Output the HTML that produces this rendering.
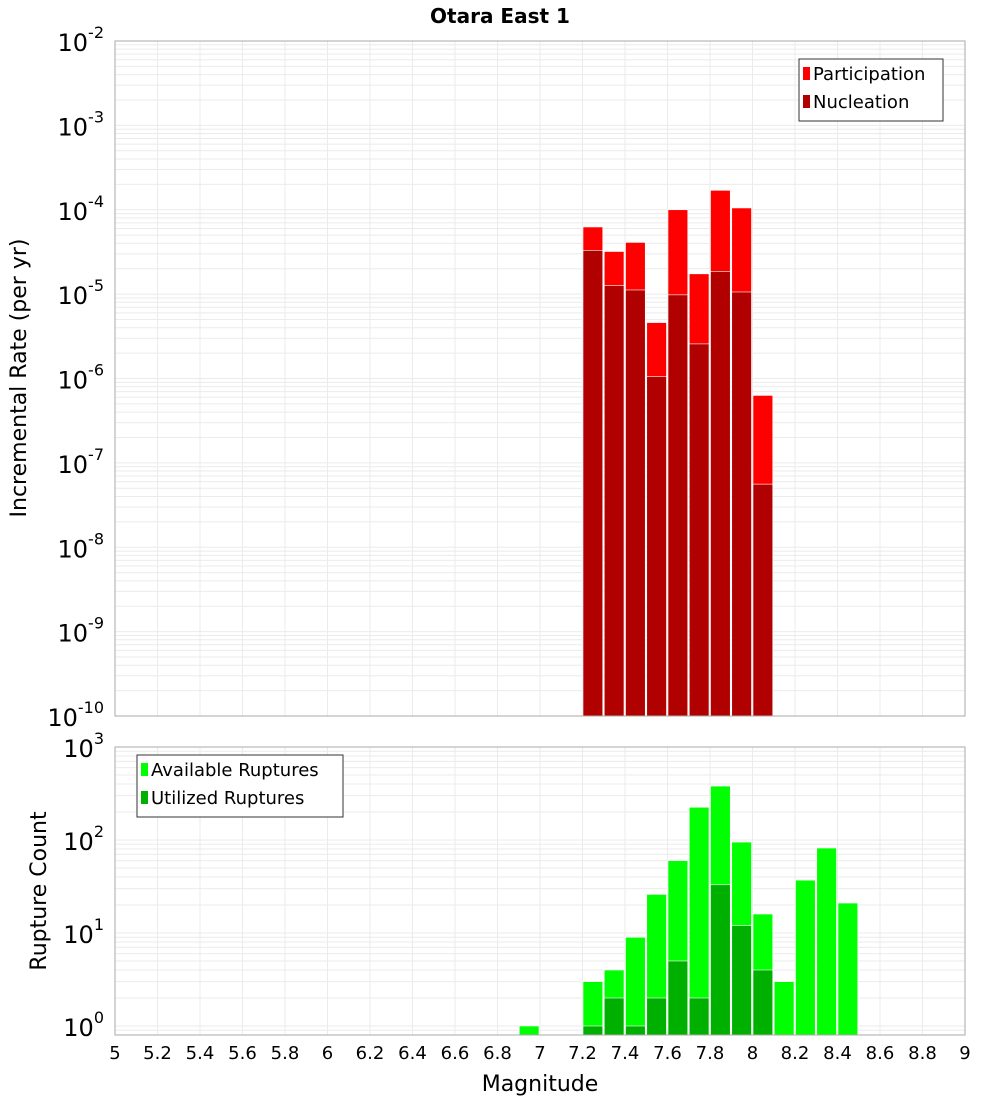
<!DOCTYPE html>
<html><head><meta charset="utf-8"><style>
body{margin:0;background:#fff;font-family:"DejaVu Sans","Liberation Sans",sans-serif}
svg text{font-family:"DejaVu Sans","Liberation Sans",sans-serif}
</style></head><body>
<svg id="c" width="1000" height="1100" xmlns="http://www.w3.org/2000/svg">
<text x="500" y="23" text-anchor="middle" font-size="20" font-weight="bold">Otara East 1</text>
<g id="toppanel"></g>
<g id="botpanel"></g>
<text transform="translate(26,378) rotate(-90)" text-anchor="middle" font-size="22">Incremental Rate (per yr)</text>
<text transform="translate(46,891) rotate(-90)" text-anchor="middle" font-size="22">Rupture Count</text>
<text x="540" y="1091" text-anchor="middle" font-size="22">Magnitude</text>
</svg>
<script>
const rateMags=[7.25,7.35,7.45,7.55,7.65,7.75,7.85,7.95,8.05];
const participation=[6.25e-5,3.2e-5,4.1e-5,4.6e-6,1e-4,1.74e-5,1.7e-4,1.05e-4,6.3e-7];
const nucleation=[3.3e-5,1.26e-5,1.12e-5,1.05e-6,9.8e-6,2.57e-6,1.86e-5,1.06e-5,5.6e-8];
const countMags=[6.95,7.25,7.35,7.45,7.55,7.65,7.75,7.85,7.95,8.05,8.15,8.25,8.35,8.45];
const available=[1,3,4,9,26,60,225,380,95,16,3,37,82,21];
const utilized=[0,1,2,1,2,5,2,33,12,4,0,0,0,0];
const xTicks=[5,5.2,5.4,5.6,5.8,6,6.2,6.4,6.6,6.8,7,7.2,7.4,7.6,7.8,8,8.2,8.4,8.6,8.8,9];
const rateExps=[-10,-9,-8,-7,-6,-5,-4,-3,-2];
const countExps=[0,1,2,3];

const NS="http://www.w3.org/2000/svg";
const X0=115,X1=965;
const xs=m=>X0+(m-5)/4*(X1-X0);
function mk(p,t,a){const e=document.createElementNS(NS,t);for(const k in a)e.setAttribute(k,a[k]);p.appendChild(e);return e;}
function panel(g,pTop,pBot,lmin,lmax,exps){
  const ys=v=>pBot-(Math.log10(v)-lmin)/(lmax-lmin)*(pBot-pTop);
  for(let d=Math.floor(lmin);d<lmax;d++)for(let k=1;k<10;k++){
    const v=k*Math.pow(10,d);const y=ys(v);if(y<pTop-0.01||y>pBot+0.01)continue;
    const l=mk(g,'line',{x1:X0,x2:X1,y1:y,y2:y,stroke:'#ebebeb','stroke-width':1});
    
    
  }
  xTicks.forEach(t=>{const l=mk(g,'line',{x1:xs(t),x2:xs(t),y1:pTop,y2:pBot,stroke:'#ebebeb','stroke-width':1});
    
    });
  exps.forEach(e=>{const y=ys(Math.pow(10,e));
    const t=mk(g,'text',{x:104,y:y+10,'text-anchor':'end','font-size':24});
    
    
    t.appendChild(document.createTextNode('10'));
    const s=mk(t,'tspan',{dy:-13,'font-size':16});s.textContent=String(e);});
  return ys;
}
const gTop=document.getElementById('toppanel'),gBot=document.getElementById('botpanel');
const ysT=panel(gTop,41,716,-10,-2,rateExps);
const ysB=panel(gBot,747,1035,Math.log10(0.8),3.0,countExps);
const bw=(X1-X0)/40;
function bars(g,mags,vals,ys,base,color,name){
  mags.forEach((m,i)=>{if(vals[i]<=0)return;const y=ys(vals[i]);
    const r=mk(g,'rect',{x:xs(m)-bw/2+0.5,y:y,width:bw-1.5,height:base-y,fill:color,stroke:'#fff','stroke-width':0.6});
    
    });
}
bars(gTop,rateMags,participation,ysT,716,'#ff0000','participation-bar');
bars(gTop,rateMags,nucleation,ysT,716,'#b00000','nucleation-bar');
bars(gBot,countMags,available,ysB,1035,'#00ff00','available-bar');
bars(gBot,countMags,utilized,ysB,1035,'#00b000','utilized-bar');
[[41,716,gTop],[747,1035,gBot]].forEach(([a,b,g])=>{const r=mk(g,'rect',{x:X0,y:a,width:X1-X0,height:b-a,fill:'none',stroke:'#aaa'});
  
  });
xTicks.forEach(t=>{const tx=mk(gBot,'text',{x:xs(t),y:1059,'text-anchor':'middle','font-size':18});
  
  
  tx.textContent=String(t);});
function legend(g,x,y,w,items){
  const b=mk(g,'rect',{x:x,y:y,width:w,height:items.length*28+6,fill:'#fff',stroke:'#333'});
  
  
  items.forEach((it,i)=>{
    const s=mk(g,'rect',{x:x+4,y:y+8+i*28,width:7,height:13,fill:it[1]});
    
    
    const t=mk(g,'text',{x:x+14,y:y+21+i*28,'font-size':18});
    
    
    t.textContent=it[0];});
}
legend(gTop,799,59,144,[['Participation','#ff0000'],['Nucleation','#b00000']]);
legend(gBot,137,755,206,[['Available Ruptures','#00ff00'],['Utilized Ruptures','#00b000']]);
</script>
</body></html>
